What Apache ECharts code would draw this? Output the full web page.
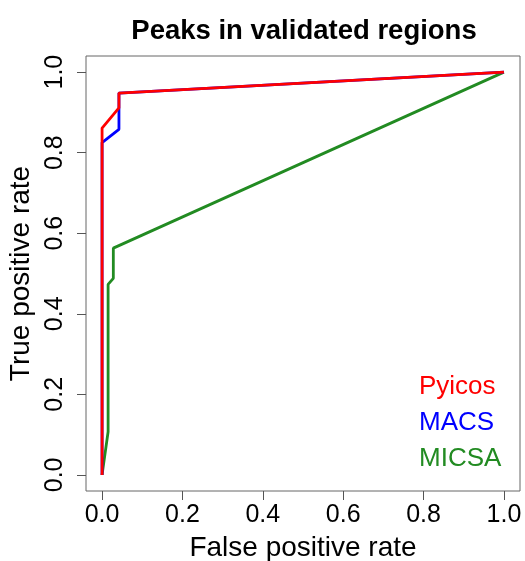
<!DOCTYPE html>
<html>
<head>
<meta charset="utf-8">
<script src="https://cdn.jsdelivr.net/npm/echarts@6/dist/echarts.min.js"></script>
<style>
html,body{margin:0;padding:0;background:#fff;}
#chart{width:525px;height:561px;}
</style>
</head>
<body>
<div id="chart"></div>
<script>
// ROC curve data (False positive rate / True positive rate)
const pyicosFpr = [0, 0, 0.042, 0.042, 1];
const pyicosTpr = [0, 0.861, 0.911, 0.948, 1];
const macsFpr = [0, 0, 0.042, 0.042, 1];
const macsTpr = [0, 0.825, 0.858, 0.948, 1];
const micsaFpr = [0, 0.015, 0.015, 0.028, 0.028, 1];
const micsaTpr = [0, 0.107, 0.473, 0.488, 0.563, 1];
const tickValues = [0, 0.2, 0.4, 0.6, 0.8, 1.0];
const seriesNames = ['Pyicos', 'MACS', 'MICSA'];
const seriesColors = ['#FF0000', '#0000FF', '#228B22'];
const titleText = 'Peaks in validated regions';
const xTitle = 'False positive rate';
const yTitle = 'True positive rate';

function pairs(xs, ys) { return xs.map((x, i) => [x, ys[i]]); }

const font = 'Liberation Sans, Arial, Helvetica, sans-serif';
const chart = echarts.init(document.getElementById('chart'), null, {renderer: 'canvas'});

const axisCommon = {
  type: 'value',
  min: -0.04,
  max: 1.04,
  splitLine: {show: false},
  axisLine: {show: false, onZero: false},
  axisTick: {show: true, inside: false, length: 9, customValues: tickValues, lineStyle: {color: '#555', width: 1}},
  axisLabel: {customValues: tickValues, formatter: v => v.toFixed(1), color: '#000', fontSize: 25, fontFamily: font},
  nameLocation: 'middle',
  nameTextStyle: {color: '#000', fontSize: 28, fontFamily: font}
};

const option = {
  backgroundColor: '#fff',
  animation: false,
  grid: {left: 86, right: 5, top: 56, bottom: 70, containLabel: false, outerBoundsMode: 'none',
    show: true, borderColor: '#666', borderWidth: 1, backgroundColor: 'transparent'},
  graphic: [{
    type: 'text', x: 304, y: 31,
    style: {text: titleText, align: 'center', verticalAlign: 'middle', font: 'bold 27.5px ' + font, fill: '#000'}
  }],
  legend: {
    orient: 'vertical', left: 409, top: 367, icon: 'none', itemWidth: 0, itemHeight: 0, itemGap: 6,
    selectedMode: false,
    data: seriesNames.map((n, i) => ({name: n, textStyle: {color: seriesColors[i]}})),
    textStyle: {fontSize: 26, fontFamily: font, lineHeight: 30, padding: 0}
  },
  xAxis: Object.assign({}, axisCommon, {
    name: xTitle, nameGap: 43,
    axisLabel: Object.assign({}, axisCommon.axisLabel, {margin: 12})
  }),
  yAxis: Object.assign({}, axisCommon, {
    name: yTitle, nameGap: 48,
    axisLabel: Object.assign({}, axisCommon.axisLabel, {margin: 18, rotate: 90})
  }),
  series: [
    {name: 'MICSA', type: 'line', data: pairs(micsaFpr, micsaTpr), showSymbol: false, symbol: 'none', lineStyle: {color: seriesColors[2], width: 2.8}, itemStyle: {color: seriesColors[2]}, z: 2},
    {name: 'MACS', type: 'line', data: pairs(macsFpr, macsTpr), showSymbol: false, symbol: 'none', lineStyle: {color: seriesColors[1], width: 2.8}, itemStyle: {color: seriesColors[1]}, z: 3},
    {name: 'Pyicos', type: 'line', data: pairs(pyicosFpr, pyicosTpr), showSymbol: false, symbol: 'none', lineStyle: {color: seriesColors[0], width: 2.8}, itemStyle: {color: seriesColors[0]}, z: 4}
  ]
};
chart.setOption(option);
</script>
</body>
</html>
